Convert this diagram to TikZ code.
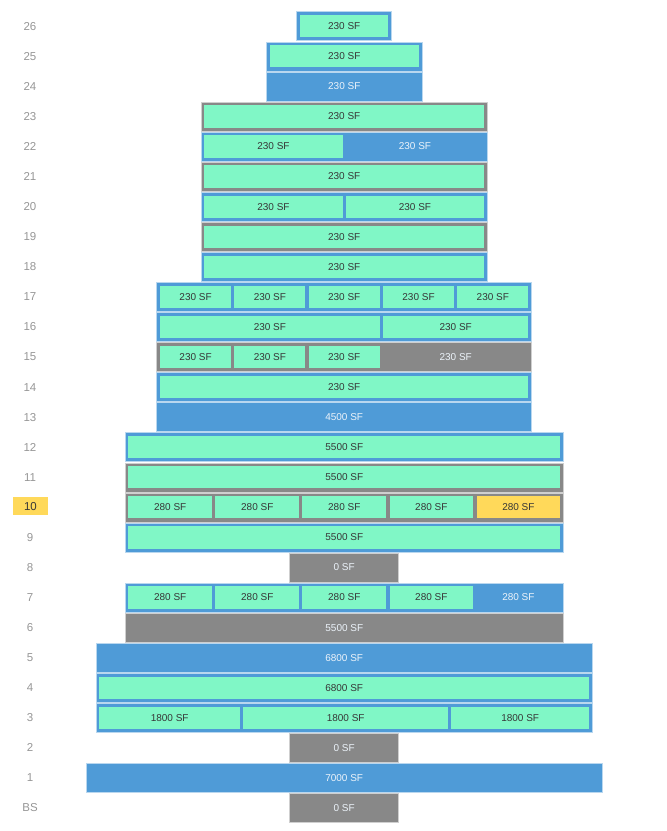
\documentclass[tikz,border=0pt]{standalone}
\usepackage{fontspec}
\setmainfont{Liberation Sans}
\usetikzlibrary{positioning}

\definecolor{floorblue}{RGB}{79,155,215}
\definecolor{floorgray}{RGB}{136,136,136}
\definecolor{cellgreen}{RGB}{128,247,198}
\definecolor{hiyellow}{RGB}{255,217,90}
\definecolor{labelgray}{RGB}{150,150,150}
\definecolor{darktext}{RGB}{55,55,55}
\definecolor{lighttext}{RGB}{236,243,250}

\tikzset{
    floor/.style={fill=#1, draw=#1!40!white, line width=0.5pt, minimum height=29pt,
        inner sep=0pt, text=lighttext, font=\fontsize{10}{11}\selectfont},
    unit/.style={fill=cellgreen, minimum height=22.2pt, inner sep=0pt,
        text=darktext, font=\fontsize{10}{11}\selectfont},
    open/.style={inner sep=0pt, text=lighttext, font=\fontsize{10}{11}\selectfont}
}

\begin{document}
\begin{tikzpicture}[x=1pt, y=-30.07pt]
    \useasboundingbox (0,-0.8713) rectangle (666,26.764);

    % floor numbers
    \begin{scope}[every node/.style={text=labelgray, font=\fontsize{11.5}{12}\selectfont}]
        \node (l26) at (30,0) {26};
        \node (l25) at (30,1) {25};
        \node (l24) at (30,2) {24};
        \node (l23) at (30,3) {23};
        \node (l22) at (30,4) {22};
        \node (l21) at (30,5) {21};
        \node (l20) at (30,6) {20};
        \node (l19) at (30,7) {19};
        \node (l18) at (30,8) {18};
        \node (l17) at (30,9) {17};
        \node (l16) at (30,10) {16};
        \node (l15) at (30,11) {15};
        \node (l14) at (30,12) {14};
        \node (l13) at (30,13) {13};
        \node (l12) at (30,14) {12};
        \node (l11) at (30,15) {11};
        \node (l9) at (30,17) {9};
        \node (l8) at (30,18) {8};
        \node (l7) at (30,19) {7};
        \node (l6) at (30,20) {6};
        \node (l5) at (30,21) {5};
        \node (l4) at (30,22) {4};
        \node (l3) at (30,23) {3};
        \node (l2) at (30,24) {2};
        \node (l1) at (30,25) {1};
        \node (lBS) at (30,26) {BS};
    \end{scope}
    \node[fill=hiyellow, minimum width=34.4pt, minimum height=17.4pt, inner sep=0pt,
        text=darktext, font=\fontsize{11.5}{12}\selectfont] (l10) at (30.5,15.96) {10};

    % floors 26 to 18
    \node[floor=floorblue, minimum width=95pt] (f26) at (344.2,0) {};
    \node[unit, minimum width=88.2pt] (f26a) at (f26) {230 SF};
    \node[floor=floorblue, minimum width=156pt] (f25) at (344.3,1) {};
    \node[unit, minimum width=149.2pt] (f25a) at (f25) {230 SF};
    \node[floor=floorblue, minimum width=156pt] (f24) at (344.3,2) {230 SF};
    \node[floor=floorgray, minimum width=286.4pt] (f23) at (344.2,3) {};
    \node[unit, minimum width=279.6pt] (f23a) at (f23) {230 SF};
    \node[floor=floorblue, minimum width=286.4pt] (f22) at (344.2,4) {};
    \node[unit, minimum width=138.1pt] (f22a) at (273.45,4) {230 SF};
    \node[open] (f22b) at (414.95,4) {230 SF};
    \node[floor=floorgray, minimum width=286.4pt] (f21) at (344.2,5) {};
    \node[unit, minimum width=279.6pt] (f21a) at (f21) {230 SF};
    \node[floor=floorblue, minimum width=286.4pt] (f20) at (344.2,6) {};
    \node[unit, minimum width=138.1pt] (f20a) at (273.45,6) {230 SF};
    \node[unit, minimum width=138.1pt] (f20b) at (414.95,6) {230 SF};
    \node[floor=floorgray, minimum width=286.4pt] (f19) at (344.2,7) {};
    \node[unit, minimum width=279.6pt] (f19a) at (f19) {230 SF};
    \node[floor=floorblue, minimum width=286.4pt] (f18) at (344.2,8) {};
    \node[unit, minimum width=279.6pt] (f18a) at (f18) {230 SF};

    % floors 17 to 13
    \node[floor=floorblue, minimum width=375pt] (f17) at (344.2,9) {};
    \node[unit, minimum width=70.92pt] (f17a) at (195.56,9) {230 SF};
    \node[unit, minimum width=70.92pt] (f17b) at (269.88,9) {230 SF};
    \node[unit, minimum width=70.92pt] (f17c) at (344.2,9) {230 SF};
    \node[unit, minimum width=70.92pt] (f17d) at (418.52,9) {230 SF};
    \node[unit, minimum width=70.92pt] (f17e) at (492.84,9) {230 SF};
    \node[floor=floorblue, minimum width=375pt] (f16) at (344.2,10) {};
    \node[unit, minimum width=219.56pt] (f16a) at (269.88,10) {230 SF};
    \node[unit, minimum width=145.24pt] (f16b) at (455.68,10) {230 SF};
    \node[floor=floorgray, minimum width=375pt] (f15) at (344.2,11) {};
    \node[unit, minimum width=70.92pt] (f15a) at (195.56,11) {230 SF};
    \node[unit, minimum width=70.92pt] (f15b) at (269.88,11) {230 SF};
    \node[unit, minimum width=70.92pt] (f15c) at (344.2,11) {230 SF};
    \node[open] (f15d) at (455.68,11) {230 SF};
    \node[floor=floorblue, minimum width=375pt] (f14) at (344.2,12) {};
    \node[unit, minimum width=368.2pt] (f14a) at (f14) {230 SF};
    \node[floor=floorblue, minimum width=375pt] (f13) at (344.2,13) {4500 SF};

    % floors 12 to 6
    \node[floor=floorblue, minimum width=438.6pt] (f12) at (344.3,14) {};
    \node[unit, minimum width=431.8pt] (f12a) at (f12) {5500 SF};
    \node[floor=floorgray, minimum width=438.6pt] (f11) at (344.3,15) {};
    \node[unit, minimum width=431.8pt] (f11a) at (f11) {5500 SF};
    \node[floor=floorgray, minimum width=438.6pt] (f10) at (344.3,16) {};
    \node[unit, minimum width=83.64pt] (f10a) at (170.22,16) {280 SF};
    \node[unit, minimum width=83.64pt] (f10b) at (257.26,16) {280 SF};
    \node[unit, minimum width=83.64pt] (f10c) at (344.3,16) {280 SF};
    \node[unit, minimum width=83.64pt] (f10d) at (431.34,16) {280 SF};
    \node[unit, fill=hiyellow, minimum width=83.64pt] (f10e) at (518.38,16) {280 SF};
    \node[floor=floorblue, minimum width=438.6pt] (f9) at (344.3,17) {};
    \node[unit, minimum width=431.8pt] (f9a) at (f9) {5500 SF};
    \node[floor=floorgray, minimum width=109pt] (f8) at (344.2,18) {0 SF};
    \node[floor=floorblue, minimum width=438.6pt] (f7) at (344.3,19) {};
    \node[unit, minimum width=83.64pt] (f7a) at (170.22,19) {280 SF};
    \node[unit, minimum width=83.64pt] (f7b) at (257.26,19) {280 SF};
    \node[unit, minimum width=83.64pt] (f7c) at (344.3,19) {280 SF};
    \node[unit, minimum width=83.64pt] (f7d) at (431.34,19) {280 SF};
    \node[open] (f7e) at (518.38,19) {280 SF};
    \node[floor=floorgray, minimum width=438.6pt] (f6) at (344.3,20) {5500 SF};

    % floors 5 to BS
    \node[floor=floorblue, minimum width=496.4pt] (f5) at (344.2,21) {6800 SF};
    \node[floor=floorblue, minimum width=496.4pt] (f4) at (344.2,22) {};
    \node[unit, minimum width=489.6pt] (f4a) at (f4) {6800 SF};
    \node[floor=floorblue, minimum width=496.4pt] (f3) at (344.2,23) {};
    \node[unit, minimum width=140.6pt] (f3a) at (169.7,23) {1800 SF};
    \node[unit, minimum width=204.6pt] (f3b) at (345.7,23) {1800 SF};
    \node[unit, minimum width=137.6pt] (f3c) at (520.2,23) {1800 SF};
    \node[floor=floorgray, minimum width=109pt] (f2) at (344.2,24) {0 SF};
    \node[floor=floorblue, minimum width=516.4pt] (f1) at (344.2,25) {7000 SF};
    \node[floor=floorgray, minimum width=109pt] (fBS) at (344.2,26) {0 SF};
\end{tikzpicture}
\end{document}
